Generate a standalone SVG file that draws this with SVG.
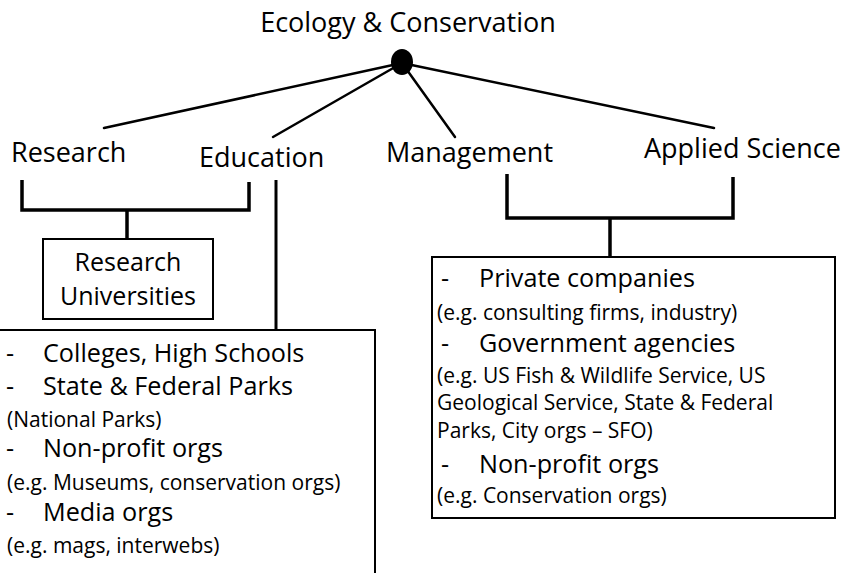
<svg xmlns="http://www.w3.org/2000/svg" width="850" height="573" viewBox="0 0 850 573">
<style>
text{font-family:"Open Sans","Noto Sans","Liberation Sans",sans-serif;fill:#000}
.lbl{font-size:27px}
.big{font-size:25.2px}
.sm{font-size:21px}
.ru{font-size:25px;text-anchor:middle}
.ln{stroke:#000;stroke-width:2.5;fill:none;stroke-linecap:round}
.br{stroke:#000;stroke-width:3.5;fill:none;stroke-linejoin:miter}
.box{stroke:#000;stroke-width:2;fill:#fff}
</style>
<g id="connectors">
<line class="ln" x1="402" y1="63" x2="104" y2="128"/>
<line class="ln" x1="402" y1="63" x2="273" y2="137"/>
<line class="ln" x1="402" y1="63" x2="455" y2="137"/>
<line class="ln" x1="402" y1="63" x2="714" y2="128"/>
<path class="br" d="M22,180 V210 H249 V182"/>
<line class="br" x1="127" y1="210" x2="127" y2="238"/>
<line class="br" x1="276" y1="180" x2="276" y2="330" style="stroke-width:3"/>
<path class="br" d="M507,174 V218 H733 V177"/>
<line class="br" x1="610" y1="218" x2="610" y2="257"/>
</g>
<g id="root">
<text class="lbl" x="408" y="32" text-anchor="middle">Ecology &amp; Conservation</text>
<ellipse cx="402" cy="62" rx="11" ry="13" fill="#000"/>
</g>
<g id="research"><text class="lbl" x="11" y="162">Research</text></g>
<g id="education"><text class="lbl" x="199" y="167">Education</text></g>
<g id="management"><text class="lbl" x="386" y="162">Management</text></g>
<g id="applied"><text class="lbl" x="644" y="158">Applied Science</text></g>
<g id="research-universities">
<rect class="box" x="43" y="239" width="170" height="80"/>
<text class="ru" x="128" y="271">Research</text>
<text class="ru" x="128" y="305">Universities</text>
</g>
<g id="education-box">
<rect class="box" x="-2" y="330" width="377" height="260"/>
<text class="big" x="6" y="362">-</text><text class="big" x="43" y="362">Colleges, High Schools</text>
<text class="big" x="6" y="395">-</text><text class="big" x="43" y="395">State &amp; Federal Parks</text>
<text class="sm" x="7" y="427">(National Parks)</text>
<text class="big" x="6" y="457">-</text><text class="big" x="43" y="457">Non-profit orgs</text>
<text class="sm" x="7" y="490">(e.g. Museums, conservation orgs)</text>
<text class="big" x="6" y="521">-</text><text class="big" x="43" y="521">Media orgs</text>
<text class="sm" x="7" y="553">(e.g. mags, interwebs)</text>
</g>
<g id="mgmt-box">
<rect class="box" x="432" y="257" width="403" height="261"/>
<text class="big" x="441" y="287">-</text><text class="big" x="479" y="287">Private companies</text>
<text class="sm" x="437" y="320">(e.g. consulting firms, industry)</text>
<text class="big" x="441" y="352">-</text><text class="big" x="479" y="352">Government agencies</text>
<text class="sm" x="437" y="383">(e.g. US Fish &amp; Wildlife Service, US</text>
<text class="sm" x="437" y="410">Geological Service, State &amp; Federal</text>
<text class="sm" x="437" y="438">Parks, City orgs – SFO)</text>
<text class="big" x="441" y="473">-</text><text class="big" x="479" y="473">Non-profit orgs</text>
<text class="sm" x="437" y="503">(e.g. Conservation orgs)</text>
</g>
</svg>
